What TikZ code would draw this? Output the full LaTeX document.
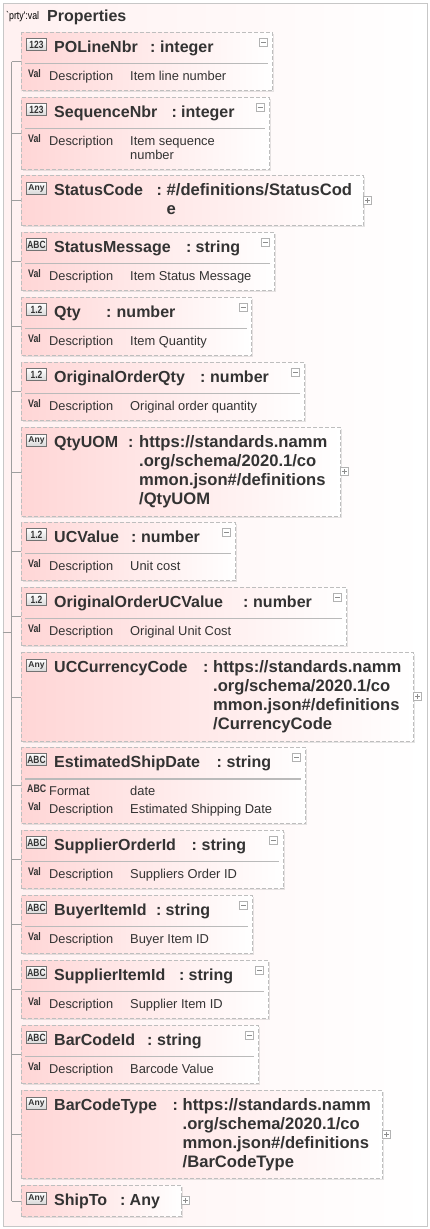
\documentclass[tikz,border=0pt]{standalone}
\usepackage{fontspec}
\setmainfont{Liberation Sans}
\newfontfamily\tagfont[FakeStretch=0.8]{Liberation Sans}
\usetikzlibrary{shadows}

\definecolor{boxpink}{HTML}{FFD6D6}
\definecolor{edgegray}{HTML}{BEBEBE}
\definecolor{textgray}{HTML}{333333}

\tikzset{
  outerbox/.style={draw=black!22, line width=1.6pt, left color=boxpink!35, right color=white, anchor=north west, inner sep=0pt},
  itembox/.style={draw=edgegray, line width=1.3pt, dash pattern=on 4pt off 2pt, left color=boxpink, right color=white, anchor=north west, inner sep=0pt, drop shadow={shadow xshift=1.5pt, shadow yshift=-1.5pt, opacity=0.2}},
  sepline/.style={draw=black!27, line width=1.3pt},
  treeline/.style={draw=black!38, line width=0.6pt},
  itemname/.style={anchor=base west, inner sep=0pt, text=textgray, font=\bfseries\fontsize{16}{19}\selectfont},
  itemvalue/.style={anchor=base west, inner sep=0pt, align=left, text=textgray, font=\bfseries\fontsize{16}{19}\selectfont},
  urlvalue/.style={itemvalue, font=\bfseries\fontsize{16.6}{19}\selectfont},
  rowname/.style={anchor=base west, inner sep=0pt, text=textgray, font=\fontsize{12.8}{14.6}\selectfont},
  rowvalue/.style={anchor=base west, inner sep=0pt, align=left, text=textgray, font=\fontsize{12.9}{14.6}\selectfont},
  rowtag/.style={anchor=base west, inner sep=0pt, text=textgray, font=\tagfont\bfseries\fontsize{11}{11}\selectfont},
  typeicon/.style={draw=black!55, line width=0.7pt, top color=white, bottom color=black!15, minimum width=20pt, minimum height=12pt, inner sep=0pt, text=textgray, font=\tagfont\bfseries\fontsize{10.5}{10.5}\selectfont},
  anyicon/.style={typeicon, font=\bfseries\fontsize{8.5}{8.5}\selectfont},
  expander/.style={draw=black!30, line width=0.6pt, fill=white, minimum size=8pt, inner sep=0pt},
  minusmark/.style={draw=black!45, line width=0.6pt},
  plusmark/.style={draw=black!45, line width=0.6pt}
}

\begin{document}
\begin{tikzpicture}[x=1pt, y=-1pt]
\useasboundingbox (0, 0) rectangle (430, 1229);

\node (properties) [outerbox, minimum width=424pt, minimum height=1223pt] at (2.5, 2.5) {};
\node (prtytag) [anchor=base west, inner sep=0pt, font=\tagfont\fontsize{11}{11}\selectfont] at (6, 19) {`prty':val};
\node (propname) [itemname] at (47, 21) {Properties};

\coordinate (trunk) at (11.5, 0);
\coordinate (parentstub) at (2.5, 632);

\node (polinenbr) [itembox, minimum width=251pt, minimum height=58pt] at (21, 32) {};
\node (sequencenbr) [itembox, minimum width=248pt, minimum height=72pt] at (21, 97) {};
\node (statuscode) [itembox, minimum width=342pt, minimum height=50pt] at (21, 175) {};
\node (statusmessage) [itembox, minimum width=253pt, minimum height=58pt] at (21, 232) {};
\node (qty) [itembox, minimum width=230pt, minimum height=58pt] at (21, 297) {};
\node (originalorderqty) [itembox, minimum width=283pt, minimum height=58pt] at (21, 362) {};
\node (qtyuom) [itembox, minimum width=319pt, minimum height=89pt] at (21, 427) {};
\node (ucvalue) [itembox, minimum width=214pt, minimum height=58pt] at (21, 522) {};
\node (originalorderucvalue) [itembox, minimum width=325pt, minimum height=58pt] at (21, 587) {};
\node (uccurrencycode) [itembox, minimum width=392pt, minimum height=89pt] at (21, 652) {};
\node (estimatedshipdate) [itembox, minimum width=284pt, minimum height=76pt] at (21, 747) {};
\node (supplierorderid) [itembox, minimum width=262pt, minimum height=58pt] at (21, 830) {};
\node (buyeritemid) [itembox, minimum width=231pt, minimum height=58pt] at (21, 895) {};
\node (supplieritemid) [itembox, minimum width=247pt, minimum height=58pt] at (21, 960) {};
\node (barcodeid) [itembox, minimum width=237pt, minimum height=58pt] at (21, 1025) {};
\node (barcodetype) [itembox, minimum width=361pt, minimum height=88pt] at (21, 1090) {};
\node (shipto) [itembox, minimum width=160pt, minimum height=31pt] at (21, 1185) {};

\draw [treeline] (polinenbr.west -| trunk) -- (shipto.west -| trunk);
\draw [treeline] (parentstub) -- (parentstub -| trunk);
\draw [treeline] (polinenbr.west -| trunk) -- (polinenbr.west);
\draw [treeline] (sequencenbr.west -| trunk) -- (sequencenbr.west);
\draw [treeline] (statuscode.west -| trunk) -- (statuscode.west);
\draw [treeline] (statusmessage.west -| trunk) -- (statusmessage.west);
\draw [treeline] (qty.west -| trunk) -- (qty.west);
\draw [treeline] (originalorderqty.west -| trunk) -- (originalorderqty.west);
\draw [treeline] (qtyuom.west -| trunk) -- (qtyuom.west);
\draw [treeline] (ucvalue.west -| trunk) -- (ucvalue.west);
\draw [treeline] (originalorderucvalue.west -| trunk) -- (originalorderucvalue.west);
\draw [treeline] (uccurrencycode.west -| trunk) -- (uccurrencycode.west);
\draw [treeline] (estimatedshipdate.west -| trunk) -- (estimatedshipdate.west);
\draw [treeline] (supplierorderid.west -| trunk) -- (supplierorderid.west);
\draw [treeline] (buyeritemid.west -| trunk) -- (buyeritemid.west);
\draw [treeline] (supplieritemid.west -| trunk) -- (supplieritemid.west);
\draw [treeline] (barcodeid.west -| trunk) -- (barcodeid.west);
\draw [treeline] (barcodetype.west -| trunk) -- (barcodetype.west);
\draw [treeline] (shipto.west -| trunk) -- (shipto.west);

\node (polinenbricon) [typeicon] at (36.5, 44.5) {123};
\node (polinenbrname) [itemname] at (54, 52) {POLineNbr};
\node (polinenbrcolon) [itemname] at (150, 52) {:};
\node (polinenbrtype) [itemvalue] at (160, 52) {integer};
\node (polinenbrminus) [expander] at (263.5, 42.5) {};
\draw [minusmark] ([xshift=-2.5pt]polinenbrminus.center) -- ([xshift=2.5pt]polinenbrminus.center);
\draw [sepline] (25, 63.5) -- (268, 63.5);
\node (polinenbrtag) [rowtag] at (28, 77) {Val};
\node (polinenbrdesc) [rowname] at (49, 80) {Description};
\node (polinenbrtext) [rowvalue] at (130, 80) {Item line number};

\node (sequencenbricon) [typeicon] at (36.5, 109.5) {123};
\node (sequencenbrname) [itemname] at (54, 117) {SequenceNbr};
\node (sequencenbrcolon) [itemname] at (171.5, 117) {:};
\node (sequencenbrtype) [itemvalue] at (181, 117) {integer};
\node (sequencenbrminus) [expander] at (260, 107.5) {};
\draw [minusmark] ([xshift=-2.5pt]sequencenbrminus.center) -- ([xshift=2.5pt]sequencenbrminus.center);
\draw [sepline] (25, 128.5) -- (265, 128.5);
\node (sequencenbrtag) [rowtag] at (28, 142) {Val};
\node (sequencenbrdesc) [rowname] at (49, 145) {Description};
\node (sequencenbrtext) [rowvalue] at (130, 159.6) {Item sequence\\number};

\node (statuscodeicon) [anyicon] at (36.5, 188) {Any};
\node (statuscodename) [itemname] at (54, 195.5) {StatusCode};
\node (statuscodecolon) [itemname] at (156.5, 195.5) {:};
\node (statuscodetype) [urlvalue] at (166.5, 214.5) {\#/definitions/StatusCod\\e};
\node (statuscodeplus) [expander] at (367.5, 200.5) {};
\draw [plusmark] ([xshift=-2.5pt]statuscodeplus.center) -- ([xshift=2.5pt]statuscodeplus.center);
\draw [plusmark] ([yshift=-2.5pt]statuscodeplus.center) -- ([yshift=2.5pt]statuscodeplus.center);

\node (statusmessageicon) [typeicon] at (36.5, 244.5) {ABC};
\node (statusmessagename) [itemname] at (54, 252) {StatusMessage};
\node (statusmessagecolon) [itemname] at (186, 252) {:};
\node (statusmessagetype) [itemvalue] at (195.5, 252) {string};
\node (statusmessageminus) [expander] at (265, 242.5) {};
\draw [minusmark] ([xshift=-2.5pt]statusmessageminus.center) -- ([xshift=2.5pt]statusmessageminus.center);
\draw [sepline] (25, 263.5) -- (270, 263.5);
\node (statusmessagetag) [rowtag] at (28, 277) {Val};
\node (statusmessagedesc) [rowname] at (49, 280) {Description};
\node (statusmessagetext) [rowvalue] at (130, 280) {Item Status Message};

\node (qtyicon) [typeicon] at (36.5, 309.5) {1.2};
\node (qtyname) [itemname] at (54, 317) {Qty};
\node (qtycolon) [itemname] at (106, 317) {:};
\node (qtytype) [itemvalue] at (116.5, 317) {number};
\node (qtyminus) [expander] at (243, 307.5) {};
\draw [minusmark] ([xshift=-2.5pt]qtyminus.center) -- ([xshift=2.5pt]qtyminus.center);
\draw [sepline] (25, 328.5) -- (247, 328.5);
\node (qtytag) [rowtag] at (28, 342) {Val};
\node (qtydesc) [rowname] at (49, 345) {Description};
\node (qtytext) [rowvalue] at (130, 345) {Item Quantity};

\node (originalorderqtyicon) [typeicon] at (36.5, 374.5) {1.2};
\node (originalorderqtyname) [itemname] at (54, 382) {OriginalOrderQty};
\node (originalorderqtycolon) [itemname] at (200, 382) {:};
\node (originalorderqtytype) [itemvalue] at (210, 382) {number};
\node (originalorderqtyminus) [expander] at (295.5, 372.5) {};
\draw [minusmark] ([xshift=-2.5pt]originalorderqtyminus.center) -- ([xshift=2.5pt]originalorderqtyminus.center);
\draw [sepline] (25, 393.5) -- (300, 393.5);
\node (originalorderqtytag) [rowtag] at (28, 407) {Val};
\node (originalorderqtydesc) [rowname] at (49, 410) {Description};
\node (originalorderqtytext) [rowvalue] at (130, 410) {Original order quantity};

\node (qtyuomicon) [anyicon] at (36.5, 440) {Any};
\node (qtyuomname) [itemname] at (54, 447) {QtyUOM};
\node (qtyuomcolon) [itemname] at (128, 447) {:};
\node (qtyuomtype) [urlvalue] at (139, 504) {https://standards.namm\\.org/schema/2020.1/co\\mmon.json\#/definitions\\/QtyUOM};
\node (qtyuomplus) [expander] at (344, 471.5) {};
\draw [plusmark] ([xshift=-2.5pt]qtyuomplus.center) -- ([xshift=2.5pt]qtyuomplus.center);
\draw [plusmark] ([yshift=-2.5pt]qtyuomplus.center) -- ([yshift=2.5pt]qtyuomplus.center);

\node (ucvalueicon) [typeicon] at (36.5, 534.5) {1.2};
\node (ucvaluename) [itemname] at (54, 542) {UCValue};
\node (ucvaluecolon) [itemname] at (131, 542) {:};
\node (ucvaluetype) [itemvalue] at (141, 542) {number};
\node (ucvalueminus) [expander] at (226.5, 532.5) {};
\draw [minusmark] ([xshift=-2.5pt]ucvalueminus.center) -- ([xshift=2.5pt]ucvalueminus.center);
\draw [sepline] (25, 553.5) -- (231, 553.5);
\node (ucvaluetag) [rowtag] at (28, 567) {Val};
\node (ucvaluedesc) [rowname] at (49, 570) {Description};
\node (ucvaluetext) [rowvalue] at (130, 570) {Unit cost};

\node (originalorderucvalueicon) [typeicon] at (36.5, 599.5) {1.2};
\node (originalorderucvaluename) [itemname] at (54, 607) {OriginalOrderUCValue};
\node (originalorderucvaluecolon) [itemname] at (243, 607) {:};
\node (originalorderucvaluetype) [itemvalue] at (253, 607) {number};
\node (originalorderucvalueminus) [expander] at (337.5, 597.5) {};
\draw [minusmark] ([xshift=-2.5pt]originalorderucvalueminus.center) -- ([xshift=2.5pt]originalorderucvalueminus.center);
\draw [sepline] (25, 618.5) -- (342, 618.5);
\node (originalorderucvaluetag) [rowtag] at (28, 632) {Val};
\node (originalorderucvaluedesc) [rowname] at (49, 635) {Description};
\node (originalorderucvaluetext) [rowvalue] at (130, 635) {Original Unit Cost};

\node (uccurrencycodeicon) [anyicon] at (36.5, 665) {Any};
\node (uccurrencycodename) [itemname] at (54, 672) {UCCurrencyCode};
\node (uccurrencycodecolon) [itemname] at (203, 672) {:};
\node (uccurrencycodetype) [urlvalue] at (213, 729) {https://standards.namm\\.org/schema/2020.1/co\\mmon.json\#/definitions\\/CurrencyCode};
\node (uccurrencycodeplus) [expander] at (417.5, 696.5) {};
\draw [plusmark] ([xshift=-2.5pt]uccurrencycodeplus.center) -- ([xshift=2.5pt]uccurrencycodeplus.center);
\draw [plusmark] ([yshift=-2.5pt]uccurrencycodeplus.center) -- ([yshift=2.5pt]uccurrencycodeplus.center);

\node (estimatedshipdateicon) [typeicon] at (36.5, 759.5) {ABC};
\node (estimatedshipdatename) [itemname] at (54, 767) {EstimatedShipDate};
\node (estimatedshipdatecolon) [itemname] at (216.5, 767) {:};
\node (estimatedshipdatetype) [itemvalue] at (226.5, 767) {string};
\node (estimatedshipdateminus) [expander] at (296.5, 757.5) {};
\draw [minusmark] ([xshift=-2.5pt]estimatedshipdateminus.center) -- ([xshift=2.5pt]estimatedshipdateminus.center);
\draw [sepline] (25, 779) -- (301, 779);
\node (estimatedshipdateformattag) [rowtag] at (27, 792) {ABC};
\node (estimatedshipdateformat) [rowname] at (49, 795) {Format};
\node (estimatedshipdateformattext) [rowvalue] at (130, 795) {date};
\node (estimatedshipdatetag) [rowtag] at (28, 810) {Val};
\node (estimatedshipdatedesc) [rowname] at (49, 813) {Description};
\node (estimatedshipdatetext) [rowvalue] at (130, 813) {Estimated Shipping Date};

\node (supplierorderidicon) [typeicon] at (36.5, 842.5) {ABC};
\node (supplierorderidname) [itemname] at (54, 850) {SupplierOrderId};
\node (supplierorderidcolon) [itemname] at (191.5, 850) {:};
\node (supplierorderidtype) [itemvalue] at (201.5, 850) {string};
\node (supplierorderidminus) [expander] at (273.5, 840.5) {};
\draw [minusmark] ([xshift=-2.5pt]supplierorderidminus.center) -- ([xshift=2.5pt]supplierorderidminus.center);
\draw [sepline] (25, 861.5) -- (279, 861.5);
\node (supplierorderidtag) [rowtag] at (28, 875) {Val};
\node (supplierorderiddesc) [rowname] at (49, 878) {Description};
\node (supplierorderidtext) [rowvalue] at (130, 878) {Suppliers Order ID};

\node (buyeritemidicon) [typeicon] at (36.5, 907.5) {ABC};
\node (buyeritemidname) [itemname] at (54, 915) {BuyerItemId};
\node (buyeritemidcolon) [itemname] at (156, 915) {:};
\node (buyeritemidtype) [itemvalue] at (165.5, 915) {string};
\node (buyeritemidminus) [expander] at (243.5, 905.5) {};
\draw [minusmark] ([xshift=-2.5pt]buyeritemidminus.center) -- ([xshift=2.5pt]buyeritemidminus.center);
\draw [sepline] (25, 926.5) -- (248, 926.5);
\node (buyeritemidtag) [rowtag] at (28, 940) {Val};
\node (buyeritemiddesc) [rowname] at (49, 943) {Description};
\node (buyeritemidtext) [rowvalue] at (130, 943) {Buyer Item ID};

\node (supplieritemidicon) [typeicon] at (36.5, 972.5) {ABC};
\node (supplieritemidname) [itemname] at (54, 980) {SupplierItemId};
\node (supplieritemidcolon) [itemname] at (179, 980) {:};
\node (supplieritemidtype) [itemvalue] at (188.5, 980) {string};
\node (supplieritemidminus) [expander] at (259.5, 970.5) {};
\draw [minusmark] ([xshift=-2.5pt]supplieritemidminus.center) -- ([xshift=2.5pt]supplieritemidminus.center);
\draw [sepline] (25, 991.5) -- (264, 991.5);
\node (supplieritemidtag) [rowtag] at (28, 1005) {Val};
\node (supplieritemiddesc) [rowname] at (49, 1008) {Description};
\node (supplieritemidtext) [rowvalue] at (130, 1008) {Supplier Item ID};

\node (barcodeidicon) [typeicon] at (36.5, 1037.5) {ABC};
\node (barcodeidname) [itemname] at (54, 1045) {BarCodeId};
\node (barcodeidcolon) [itemname] at (147, 1045) {:};
\node (barcodeidtype) [itemvalue] at (157, 1045) {string};
\node (barcodeidminus) [expander] at (249.5, 1035.5) {};
\draw [minusmark] ([xshift=-2.5pt]barcodeidminus.center) -- ([xshift=2.5pt]barcodeidminus.center);
\draw [sepline] (25, 1056.5) -- (254, 1056.5);
\node (barcodeidtag) [rowtag] at (28, 1070) {Val};
\node (barcodeiddesc) [rowname] at (49, 1073) {Description};
\node (barcodeidtext) [rowvalue] at (130, 1073) {Barcode Value};

\node (barcodetypeicon) [anyicon] at (36.5, 1103) {Any};
\node (barcodetypename) [itemname] at (54, 1110) {BarCodeType};
\node (barcodetypecolon) [itemname] at (172.5, 1110) {:};
\node (barcodetypetype) [urlvalue] at (182.5, 1167) {https://standards.namm\\.org/schema/2020.1/co\\mmon.json\#/definitions\\/BarCodeType};
\node (barcodetypeplus) [expander] at (386.5, 1134.5) {};
\draw [plusmark] ([xshift=-2.5pt]barcodetypeplus.center) -- ([xshift=2.5pt]barcodetypeplus.center);
\draw [plusmark] ([yshift=-2.5pt]barcodetypeplus.center) -- ([yshift=2.5pt]barcodetypeplus.center);

\node (shiptoicon) [anyicon] at (36.5, 1198) {Any};
\node (shiptoname) [itemname] at (54, 1205) {ShipTo};
\node (shiptocolon) [itemname] at (120, 1205) {:};
\node (shiptotype) [itemvalue] at (129.5, 1205) {Any};
\node (shiptoplus) [expander] at (185.5, 1200.5) {};
\draw [plusmark] ([xshift=-2.5pt]shiptoplus.center) -- ([xshift=2.5pt]shiptoplus.center);
\draw [plusmark] ([yshift=-2.5pt]shiptoplus.center) -- ([yshift=2.5pt]shiptoplus.center);
\end{tikzpicture}
\end{document}
